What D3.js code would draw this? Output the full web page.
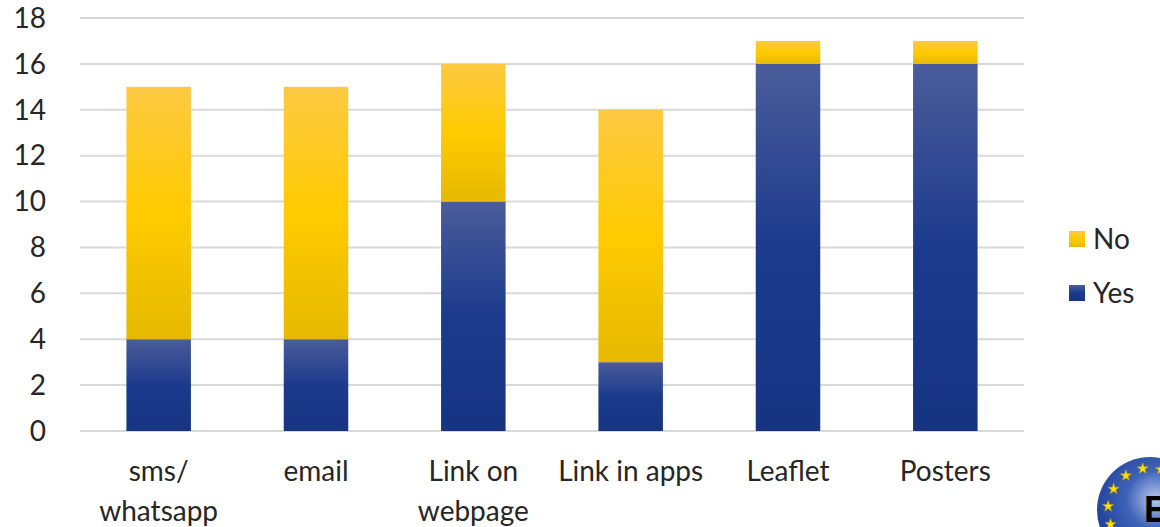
<!DOCTYPE html>
<html>
<head>
<meta charset="utf-8">
<script src="https://cdn.jsdelivr.net/npm/d3@7"></script>
<style>
  body { margin: 0; background: #fff; }
  svg { display: block; font-family: Lato, "Open Sans", sans-serif; }
</style>
</head>
<body>
<div id="chart"></div>
<script>
var categories = [["sms/", "whatsapp"], ["email"], ["Link on", "webpage"], ["Link in apps"], ["Leaflet"], ["Posters"]];
var yesValues = [4, 4, 10, 3, 16, 16];
var noValues = [11, 11, 6, 11, 1, 1];
var yTicks = [0, 2, 4, 6, 8, 10, 12, 14, 16, 18];

var width = 1160, height = 527;
var margin = {top: 18, right: 136, bottom: 96, left: 80};

var svg = d3.select("#chart").append("svg")
    .attr("width", width)
    .attr("height", height);

var defs = svg.append("defs");

// vertical gradients for the segments, like the office chart
var blueGrad = defs.append("linearGradient").attr("id", "blueGrad")
    .attr("x1", 0).attr("y1", 0).attr("x2", 0).attr("y2", 1);
blueGrad.append("stop").attr("offset", "0%").attr("stop-color", "#4a5c9a");
blueGrad.append("stop").attr("offset", "50%").attr("stop-color", "#1c3a8c");
blueGrad.append("stop").attr("offset", "100%").attr("stop-color", "#163482");

var yellowGrad = defs.append("linearGradient").attr("id", "yellowGrad")
    .attr("x1", 0).attr("y1", 0).attr("x2", 0).attr("y2", 1);
yellowGrad.append("stop").attr("offset", "0%").attr("stop-color", "#fdc943");
yellowGrad.append("stop").attr("offset", "50%").attr("stop-color", "#ffcb00");
yellowGrad.append("stop").attr("offset", "100%").attr("stop-color", "#e6b900");

var logoGrad = defs.append("radialGradient").attr("id", "logoGrad")
    .attr("cx", "55%").attr("cy", "40%").attr("r", "60%");
logoGrad.append("stop").attr("offset", "0%").attr("stop-color", "#b9c8ea");
logoGrad.append("stop").attr("offset", "45%").attr("stop-color", "#3e63b8");
logoGrad.append("stop").attr("offset", "100%").attr("stop-color", "#1f3f9a");

var x = d3.scaleBand()
    .domain(d3.range(categories.length))
    .range([margin.left, width - margin.right])
    .paddingInner(0.59)
    .paddingOuter(0.295);

var y = d3.scaleLinear()
    .domain([0, 18])
    .range([height - margin.bottom, margin.top]);

// gridlines
svg.append("g").selectAll("line")
    .data(yTicks)
    .enter()
    .append("line")
    .attr("x1", margin.left)
    .attr("x2", width - margin.right)
    .attr("y1", function(d) { return y(d); })
    .attr("y2", function(d) { return y(d); })
    .attr("stroke", "#d9d9d9")
    .attr("stroke-width", 2);

// y tick labels
svg.append("g").selectAll("text")
    .data(yTicks)
    .enter()
    .append("text")
    .attr("x", 46)
    .attr("y", function(d) { return y(d); })
    .attr("dy", "0.35em")
    .attr("text-anchor", "end")
    .attr("font-size", 28)
    .attr("fill", "#262626")
    .text(function(d) { return d; });

// stacked bars
var bars = svg.append("g");
bars.selectAll(".yes")
    .data(yesValues)
    .enter()
    .append("rect")
    .attr("class", "yes")
    .attr("x", function(d, i) { return x(i); })
    .attr("width", x.bandwidth())
    .attr("y", function(d) { return y(d); })
    .attr("height", function(d) { return y(0) - y(d); })
    .attr("fill", "url(#blueGrad)");

bars.selectAll(".no")
    .data(noValues)
    .enter()
    .append("rect")
    .attr("class", "no")
    .attr("x", function(d, i) { return x(i); })
    .attr("width", x.bandwidth())
    .attr("y", function(d, i) { return y(yesValues[i] + d); })
    .attr("height", function(d, i) { return y(yesValues[i]) - y(yesValues[i] + d); })
    .attr("fill", "url(#yellowGrad)");

// category labels
var catLabels = svg.append("g").selectAll("text")
    .data(categories)
    .enter()
    .append("text")
    .attr("x", function(d, i) { return x(i) + x.bandwidth() / 2; })
    .attr("y", 481)
    .attr("text-anchor", "middle")
    .attr("font-size", 28)
    .attr("fill", "#262626");

catLabels.selectAll("tspan")
    .data(function(d) { return d; })
    .enter()
    .append("tspan")
    .attr("x", function() { return d3.select(this.parentNode).attr("x"); })
    .attr("dy", function(d, i) { return i === 0 ? 0 : 40; })
    .text(function(d) { return d; });

// legend
var legendItems = [{label: "No", fill: "url(#yellowGrad)"}, {label: "Yes", fill: "url(#blueGrad)"}];
var legend = svg.append("g").selectAll("g")
    .data(legendItems)
    .enter()
    .append("g")
    .attr("transform", function(d, i) { return "translate(1069," + (231 + i * 54) + ")"; });

legend.append("rect")
    .attr("width", 16)
    .attr("height", 16)
    .attr("fill", function(d) { return d.fill; });

legend.append("text")
    .attr("x", 24)
    .attr("y", 8)
    .attr("dy", "0.36em")
    .attr("font-size", 28)
    .attr("fill", "#262626")
    .text(function(d) { return d.label; });

// logo in the bottom right corner (cut off by the edge, as in the source)
var logo = svg.append("g").attr("transform", "translate(1150,510)");
logo.append("circle")
    .attr("r", 53)
    .attr("fill", "url(#logoGrad)");

var star = d3.symbol().type(d3.symbolStar).size(40);
var starAngles = [-100, -75, -50, -125, -150, -175, 160];
logo.selectAll("path")
    .data(starAngles)
    .enter()
    .append("path")
    .attr("d", star)
    .attr("fill", "#ffe000")
    .attr("stroke", "#b89600")
    .attr("stroke-width", 0.5)
    .attr("transform", function(d) {
        var a = d * Math.PI / 180;
        return "translate(" + (42 * Math.cos(a)) + "," + (42 * Math.sin(a)) + ")";
    });

logo.append("text")
    .attr("x", -6)
    .attr("y", 12)
    .attr("font-size", 36)
    .attr("font-weight", "bold")
    .attr("font-family", "Liberation Sans, sans-serif")
    .attr("fill", "#000")
    .text("E");
</script>
</body>
</html>
